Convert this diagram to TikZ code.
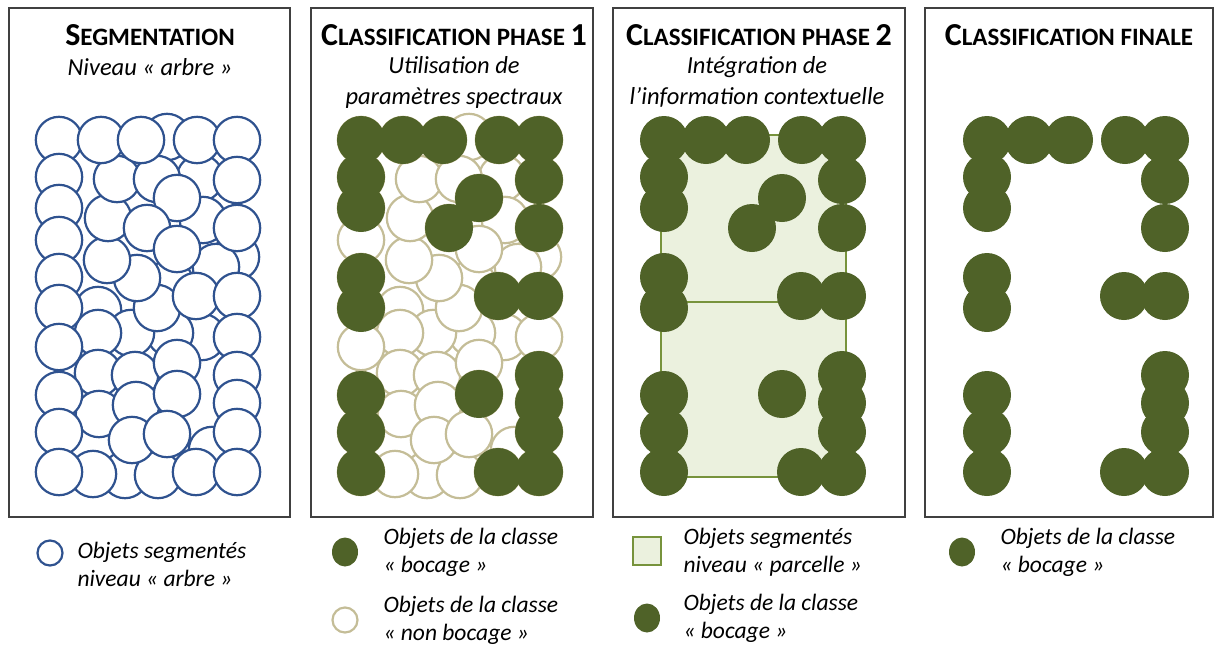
\documentclass[tikz,border=0pt]{standalone}
\usepackage{fontspec}
\setmainfont{Carlito}
\usetikzlibrary{positioning}
\definecolor{treeblue}{HTML}{2F528F}
\definecolor{bocage}{HTML}{4F6228}
\definecolor{nonboc}{HTML}{C4BD97}
\definecolor{parcelfill}{HTML}{EBF1DE}
\definecolor{parcelline}{HTML}{77933C}
\definecolor{frame}{HTML}{404040}

\newcommand{\capbig}[1]{{\fontsize{32}{34}\selectfont #1}}
\newcommand{\capsmall}[1]{{\fontsize{25}{34}\selectfont #1}}

% tree-level objects (panel 1 coordinates, back to front)
\def\treelist{167/137, 200/178, 203/220, 170/283, 98/310, 236/257, 212/450,
  125/475, 158/475, 93/474, 202/337, 170/333, 131/333, 98/333, 157/308,
  137/278, 216/267, 107/260, 108/218, 117/179, 157/179,
  59/140, 101/140, 141/140, 197/140, 237/140, 59/177, 237/180, 177/198,
  59/208, 147/228, 237/228, 177/249, 59/240, 59/277, 196/296, 237/296,
  59/308, 59/347, 237/337, 98/373, 135/375, 177/363, 237/375, 99/414,
  136/405, 177/394, 237/403, 59/395, 132/440, 167/434, 237/432, 59/432,
  59/472, 196/472, 237/472}
% bocage objects along the hedges
\def\bocedge{59/140, 101/140, 141/140, 197/140, 237/140, 59/177, 59/208,
  59/277, 59/308, 59/395, 59/432, 59/472, 237/180, 237/228, 196/296,
  237/296, 237/375, 237/403, 237/432, 237/472, 196/472}
% bocage objects inside the parcel
\def\bocmid{177/198, 147/228, 177/394}

\begin{document}
\begin{tikzpicture}[
    x=1pt, y=-1pt,
    treeobj/.style={draw=treeblue, line width=2.2pt, fill=white},
    nonbocobj/.style={draw=nonboc, line width=2.2pt, fill=white},
    bocobj/.style={fill=bocage},
    parcel/.style={draw=parcelline, line width=2.6pt, fill=parcelfill},
    panel/.style={draw=frame, line width=1.3pt},
    title/.style={font=\bfseries},
    subtitle/.style={font=\itshape\fontsize{24.5}{31}\selectfont, align=center},
    legend/.style={font=\itshape\fontsize{23.5}{28}\selectfont, align=left, anchor=west},
  ]

  \useasboundingbox (0,0) rectangle (1214,646);

  % === Panels ===
  \draw[panel] (9,8) rectangle (290,517);
  \draw[panel] (311,8) rectangle (593,517);
  \draw[panel] (613,8) rectangle (905,517);
  \draw[panel] (925,8) rectangle (1213,517);

  % === Titles ===
  \node[title] (tseg) at (150,35) {\capbig{S}\capsmall{EGMENTATION}};
  \node[title] (tph1) at (454,35) {\capbig{C}\capsmall{LASSIFICATION PHASE }\capbig{1}};
  \node[title] (tph2) at (759,35) {\capbig{C}\capsmall{LASSIFICATION PHASE }\capbig{2}};
  \node[title] (tfin) at (1069,35) {\capbig{C}\capsmall{LASSIFICATION FINALE}};

  \node[subtitle] (sseg) at (150,67) {Niveau « arbre »};
  \node[subtitle] (sph1) at (454,82) {Utilisation de\\paramètres spectraux};
  \node[subtitle] (sph2) at (757,82) {Intégration de\\l’information contextuelle};

  % === Panel 1: segmentation ===
  \foreach \px/\py in \treelist
    \draw[treeobj] (\px,\py) circle[radius=23.2pt];

  % === Panel 2: spectral classification ===
  \foreach \px/\py in \treelist
    \draw[nonbocobj] (\px+302,\py) circle[radius=23.2pt];
  \foreach \px/\py in \bocedge
    \fill[bocobj] (\px+302,\py) circle[radius=24pt];
  \foreach \px/\py in \bocmid
    \fill[bocobj] (\px+302,\py) circle[radius=24pt];

  % === Panel 3: contextual information ===
  \draw[parcel] (661,135) rectangle (846,477);
  \draw[parcel] (661,302) -- (846,302);
  \foreach \px/\py in \bocedge
    \fill[bocobj] (\px+605,\py) circle[radius=24pt];
  \foreach \px/\py in \bocmid
    \fill[bocobj] (\px+605,\py) circle[radius=24pt];

  % === Panel 4: final classification ===
  \foreach \px/\py in \bocedge
    \fill[bocobj] (\px+928,\py) circle[radius=24pt];

  % === Legends ===
  \draw[treeobj] (50,553) circle[radius=12.5pt];
  \node[legend] (lseg) at (74,564) {Objets segmentés\\niveau « arbre »};

  \fill[bocobj] (345,552) ellipse[x radius=13pt, y radius=14.5pt];
  \node[legend] (lboc1) at (380,552) {Objets de la classe\\« bocage »};
  \draw[nonbocobj] (345,620) circle[radius=12.5pt];
  \node[legend] (lnon) at (380,620) {Objets de la classe\\« non bocage »};

  \draw[parcel] (633,537) rectangle (661,565);
  \node[legend] (lpar) at (680,552) {Objets segmentés\\niveau « parcelle »};
  \fill[bocobj] (647,618) ellipse[x radius=13pt, y radius=14.5pt];
  \node[legend] (lboc2) at (680,618) {Objets de la classe\\« bocage »};

  \fill[bocobj] (962,552) ellipse[x radius=13pt, y radius=14.5pt];
  \node[legend] (lboc3) at (997,552) {Objets de la classe\\« bocage »};

\end{tikzpicture}
\end{document}
